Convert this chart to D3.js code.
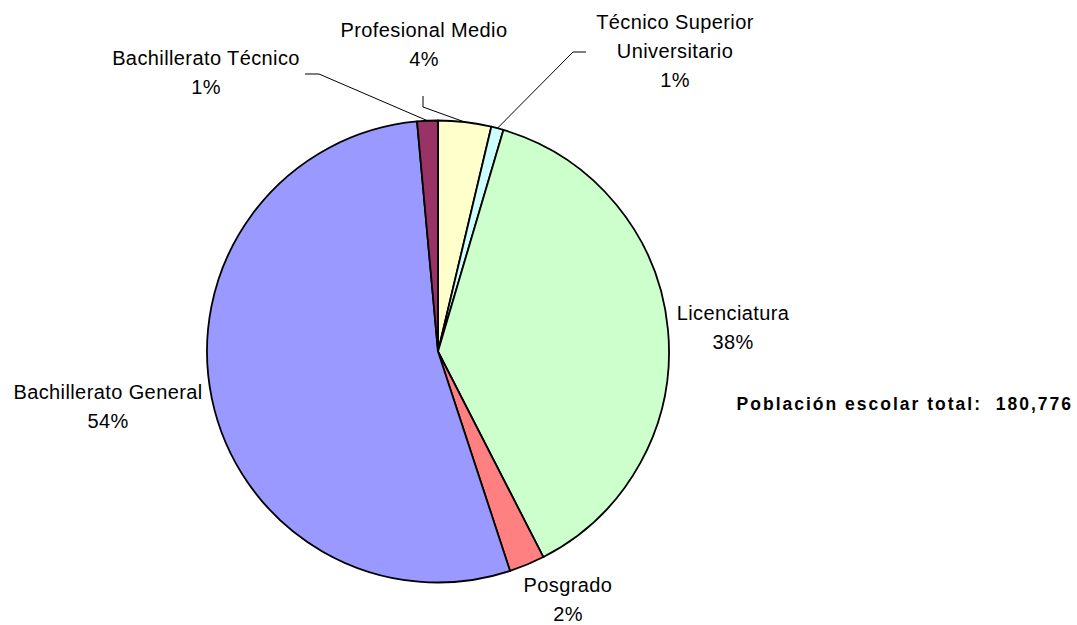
<!DOCTYPE html>
<html>
<head>
<meta charset="utf-8">
<script src="https://cdn.jsdelivr.net/npm/d3@7"></script>
<style>
  body { margin: 0; background: #fff; }
  text { font-family: Arial, "Liberation Sans", sans-serif; }
</style>
</head>
<body>
<div class="chart"></div>
<script>
// categories in drawing order (clockwise from 12 o'clock)
const categories = [
    "Profesional Medio",
    "Técnico Superior Universitario",
    "Licenciatura",
    "Posgrado",
    "Bachillerato General",
    "Bachillerato Técnico"
];
const values = [6700, 1560, 68500, 4500, 96900, 2616];
const sliceColors = ["#ffffcc", "#ccffff", "#ccffcc", "#ff8080", "#9999ff", "#993366"];
const labelLines = [
    ["Profesional Medio"],
    ["Técnico Superior", "Universitario"],
    ["Licenciatura"],
    ["Posgrado"],
    ["Bachillerato General"],
    ["Bachillerato Técnico"]
];
const totalLabel = "Población escolar total:  180,776";

const w = 1077;
const h = 625;
const cx = 438, cy = 351.5, radius = 231;

// where each label block sits (center x, first baseline y), plus leader line elbow
const layout = [
    { x: 424, y: 37, elbow: [[423, 96], [423, 107]] },
    { x: 675, y: 29, elbow: [[586, 52], [573, 52]] },
    { x: 733, y: 320, elbow: null },
    { x: 568, y: 592, elbow: null },
    { x: 108, y: 399, elbow: null },
    { x: 206, y: 65, elbow: [[305, 74], [319, 74]] }
];

const data = categories.map((c, i) => ({ name: c, value: values[i] }));
const total = d3.sum(values);

const svg = d3.select(".chart")
    .append("svg")
    .attr("width", w)
    .attr("height", h);

const pie = d3.pie().sort(null).value(d => d.value);
const arc = d3.arc().innerRadius(0).outerRadius(radius);
const arcs = pie(data);

const g = svg.append("g").attr("transform", `translate(${cx},${cy})`);

g.selectAll("path")
    .data(arcs)
    .enter()
    .append("path")
    .attr("d", arc)
    .attr("fill", (d, i) => sliceColors[i])
    .attr("stroke", "#000")
    .attr("stroke-width", 1.8)
    .attr("stroke-linejoin", "round");

// leader lines for the small slices
arcs.forEach((d, i) => {
    const L = layout[i];
    if (!L.elbow) return;
    const a = (d.startAngle + d.endAngle) / 2;
    const px = cx + radius * Math.sin(a);
    const py = cy - radius * Math.cos(a);
    const pts = [L.elbow[0], L.elbow[1], [px, py]];
    svg.append("path")
        .attr("d", d3.line()(pts))
        .attr("fill", "none")
        .attr("stroke", "#000")
        .attr("stroke-width", 1);
});

// labels
arcs.forEach((d, i) => {
    const L = layout[i];
    const lines = labelLines[i].concat([Math.round(d.value / total * 100) + "%"]);
    const t = svg.append("text")
        .attr("text-anchor", "middle")
        .attr("font-size", "20px")
        .attr("letter-spacing", "0.4px")
        .attr("fill", "#000");
    lines.forEach((s, k) => {
        t.append("tspan")
            .attr("x", L.x)
            .attr("y", L.y + k * 28.8)
            .text(s);
    });
});

svg.append("text")
    .attr("x", 1073)
    .attr("y", 410)
    .attr("text-anchor", "end")
    .attr("font-size", "17.5px")
    .attr("font-weight", "bold")
    .attr("letter-spacing", "2px")
    .attr("xml:space", "preserve")
    .style("white-space", "pre")
    .text(totalLabel);
</script>
</body>
</html>
